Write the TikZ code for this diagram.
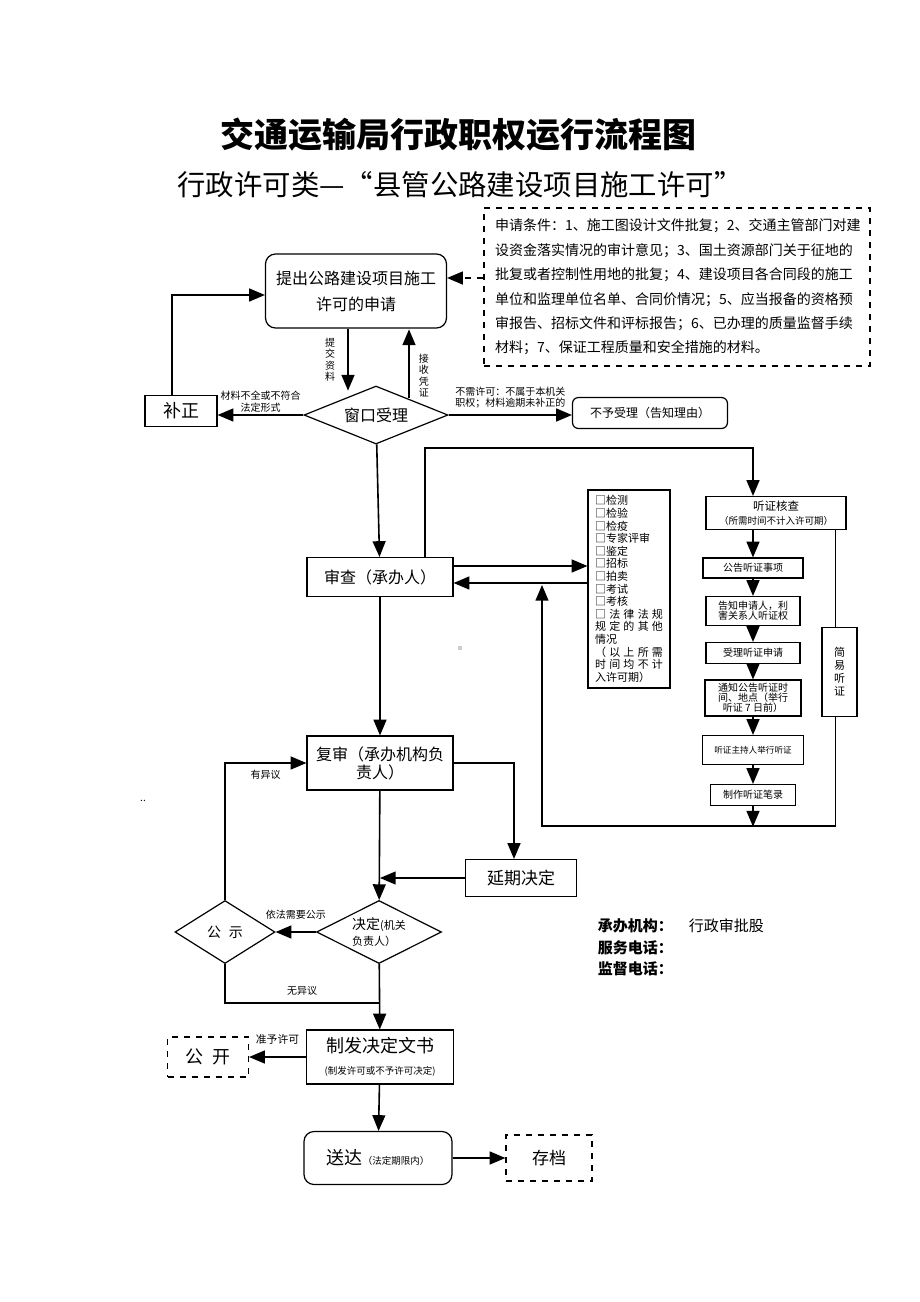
\documentclass[tikz,border=0pt]{standalone}
\usepackage{fontspec}
\setmainfont{Noto Sans CJK SC}
\usetikzlibrary{arrows,shapes.geometric}

\begin{document}
\begin{tikzpicture}[->,>=triangle 45,thick,x=0.5pt,y=-0.5pt,
                    box/.style={draw,semithick,rectangle,inner sep=1pt,align=center},
                    rbox/.style={box,rounded corners=5pt},
                    dbox/.style={box,dashed},
                    dec/.style={draw,semithick,diamond,inner sep=0pt,aspect=2.2,align=center},
                    lbl/.style={font=\fontsize{5}{5.75}\selectfont,inner sep=1pt,align=center}]

	\useasboundingbox (0,0) rectangle (920,1302);

	\node[font=\bfseries\fontsize{17}{20}\selectfont] (ttl) at (458,135) {交通运输局行政职权运行流程图};
	\node[font=\fontsize{14.2}{16}\selectfont] (sub) at (460,185) {行政许可类—“县管公路建设项目施工许可”};

	\node[dbox,align=left,text width=182pt,minimum width=193pt,minimum height=79pt,
	      font=\fontsize{7}{12.2}\selectfont] (cond) at (677,287)
	      {申请条件：1、施工图设计文件批复；2、交通主管部门对建\\
	       设资金落实情况的审计意见；3、国土资源部门关于征地的\\
	       批复或者控制性用地的批复；4、建设项目各合同段的施工\\
	       单位和监理单位名单、合同价情况；5、应当报备的资格预\\
	       审报告、招标文件和评标报告；6、已办理的质量监督手续\\
	       材料；7、保证工程质量和安全措施的材料。};

	\node[rbox,minimum width=90.5pt,minimum height=37pt,font=\fontsize{8}{13}\selectfont] (app) at (356,291) {提出公路建设项目施工\\许可的申请};
	\node[box,minimum width=36pt,minimum height=15.5pt,font=\fontsize{9}{10}\selectfont] (bz) at (181,411) {补正};
	\node[dec,minimum width=72pt,minimum height=29pt,font=\fontsize{8}{9}\selectfont] (ck) at (376,415) {窗口受理};
	\node[rbox,rounded corners=3pt,minimum width=77.5pt,minimum height=15.5pt,font=\fontsize{6}{7}\selectfont] (nr) at (650,413) {不予受理（告知理由）};

	\node[box,minimum width=73pt,minimum height=19.5pt,font=\fontsize{8}{9}\selectfont] (sc) at (380,577) {审查（承办人）};
	\node[box,align=left,text width=34pt,inner xsep=3.5pt,minimum height=99pt,
	      font=\fontsize{5.5}{6.3}\selectfont] (lst) at (629,589)
	      {□检测\\□检验\\□检疫\\□专家评审\\□鉴定\\□招标\\□拍卖\\□考试\\□考核\\
	       □\hfill 法\hfill 律\hfill 法\hfill 规\\规\hfill 定\hfill 的\hfill 其\hfill 他\\情况\\
	       （\hfill 以\hfill 上\hfill 所\hfill 需\\时\hfill 间\hfill 均\hfill 不\hfill 计\\入许可期）};

	\node[box,minimum width=70pt,minimum height=16.5pt,font=\fontsize{5.75}{7}\selectfont] (tz) at (776,513) {听证核查\\{\fontsize{4.75}{6}\selectfont（所需时间不计入许可期）}};
	\node[box,minimum width=50pt,minimum height=10pt,font=\fontsize{5}{6}\selectfont] (gg) at (753,568) {公告听证事项};
	\node[box,minimum width=47pt,minimum height=14.5pt,font=\fontsize{5}{5}\selectfont] (gz) at (753,611) {告知申请人，利\\害关系人听证权};
	\node[box,minimum width=47pt,minimum height=10.5pt,font=\fontsize{5}{6}\selectfont] (sl) at (753,653) {受理听证申请};
	\node[box,minimum width=48pt,minimum height=18pt,font=\fontsize{5}{5}\selectfont] (tg) at (753,698) {通知公告听证时\\间、地点（举行\\听证 7 日前）};
	\node[box,minimum width=50.5pt,minimum height=14.5pt,font=\fontsize{4.3}{5}\selectfont] (jx) at (753,750) {听证主持人举行听证};
	\node[box,minimum width=42.5pt,minimum height=10.5pt,font=\fontsize{5}{6}\selectfont] (zz) at (753,795) {制作听证笔录};
	\node[box,minimum width=17.5pt,minimum height=44.5pt,font=\fontsize{5.5}{6.5}\selectfont] (jy) at (839.5,672) {简\\易\\听\\证};

	\node[box,minimum width=73pt,minimum height=27pt,font=\fontsize{8}{9}\selectfont] (fs) at (380,763) {复审（承办机构负\\责人）};
	\node[box,minimum width=55.5pt,minimum height=18.5pt,font=\fontsize{8.5}{10}\selectfont] (yq) at (521,878) {延期决定};
	\node[dec,align=left,minimum width=62.5pt,minimum height=31.5pt,font=\fontsize{5.5}{8}\selectfont] (jd) at (379,932) {{\fontsize{7}{8}\selectfont 决定}(机关\\负责人）};
	\node[dec,minimum width=50pt,minimum height=31.5pt,font=\fontsize{7}{8}\selectfont] (gs) at (225,932) {公\hspace{4pt}示};
	\node[box,minimum width=73.5pt,minimum height=27pt,font=\fontsize{9}{11}\selectfont] (zf) at (380,1057) {制发决定文书\\{\fontsize{4.75}{6}\selectfont(制发许可或不予许可决定)}};
	\node[dbox,minimum width=40.5pt,minimum height=20pt,font=\fontsize{9}{10}\selectfont] (gk) at (208,1057) {公\hspace{5pt}开};
	\node[rbox,minimum width=74pt,minimum height=26.5pt,font=\fontsize{4.75}{6}\selectfont] (sd) at (378,1158) {{\fontsize{9}{10}\selectfont 送达}（法定期限内）};
	\node[dbox,minimum width=43pt,minimum height=23pt,font=\fontsize{8.5}{10}\selectfont] (cd) at (549,1158) {存档};

	\node[anchor=west,inner sep=0pt,font=\bfseries\fontsize{7.5}{9}\selectfont] (org) at (597,926) {承办机构：};
	\node[anchor=west,inner sep=0pt,font=\fontsize{7.5}{9}\selectfont] (dept) at (688,926) {行政审批股};
	\node[anchor=west,inner sep=0pt,font=\bfseries\fontsize{7.5}{9}\selectfont] (svc) at (597,948) {服务电话：};
	\node[anchor=west,inner sep=0pt,font=\bfseries\fontsize{7.5}{9}\selectfont] (spv) at (597,969) {监督电话：};
	\node[inner sep=0pt,font=\fontsize{5}{6}\selectfont] (dots) at (143,801) {..};
	\fill[gray!40] (458,646) rectangle (462,650);

	\coordinate (rt) at (542,585);
	\coordinate (jn) at (379,1003);

	\draw[dashed] ([yshift=4.5pt]cond.west) -- ([yshift=4.5pt]cond.west -| app.east);
	\draw ([xshift=-4.5pt]bz.north) |- ([yshift=-2pt]app.west);
	\draw ([xshift=-4pt]app.south) -- ++(0,62) node[lbl,midway,left=5pt] {提\\交\\资\\料};
	\draw ([xshift=16.5pt,yshift=-6.5pt]ck.north) -- ++(0,-69) node[lbl,pos=0.33,right=3.5pt] {接\\收\\凭\\证};
	\draw (ck.west) -- (ck.west -| bz.east) node[lbl,midway,above=0pt] {材料不全或不符合\\法定形式};
	\draw (ck.east) -- (ck.east -| nr.west) node[lbl,midway,above=2pt] {不需许可：不属于本机关\\职权；材料逾期未补正的};
	\path (ck) edge (sc);

	\draw ([xshift=22.5pt]sc.north) -- ++(0,-109) -| ([xshift=-11.5pt]tz.north);
	\draw ([yshift=5.5pt]sc.east) -- ([yshift=5.5pt]sc.east -| lst.west);
	\draw ([yshift=-3pt]sc.east -| lst.west) -- ([yshift=-3pt]sc.east);

	\draw ([xshift=-11.5pt]tz.south) -- (gg.north);
	\path (gg) edge (gz)
	      (gz) edge (sl)
	      (sl) edge (tg)
	      (tg) edge (jx)
	      (jx) edge (zz);
	\draw[-] ([xshift=-2pt]jy.north) -- ([xshift=-2pt]jy.north |- tz.south);
	\draw ([xshift=-2pt]jy.south) -- ++(0,109) -| (rt);
	\draw (zz.south) -- ++(0,20.5);

	\path (sc) edge (fs);
	\draw (fs.east) -| ([xshift=-3.5pt]yq.north);
	\draw (yq.west) -- (yq.west -| fs.south);
	\path (fs) edge (jd);
	\draw (jd) -- (gs) node[lbl,midway,above=5pt] {依法需要公示};
	\draw (gs.north) |- (fs.west) node[lbl,pos=0.75,below=2pt] {有异议};
	\draw[-] (gs.south) |- (jn) node[lbl,pos=0.75,above=2.5pt] {无异议};
	\path (jd) edge (zf);
	\draw (zf.west) -- (gk.east) node[lbl,midway,above=5pt,font=\fontsize{5.4}{6}\selectfont] {准予许可};
	\path (zf) edge (sd);
	\draw (sd) -- (cd);

\end{tikzpicture}
\end{document}
